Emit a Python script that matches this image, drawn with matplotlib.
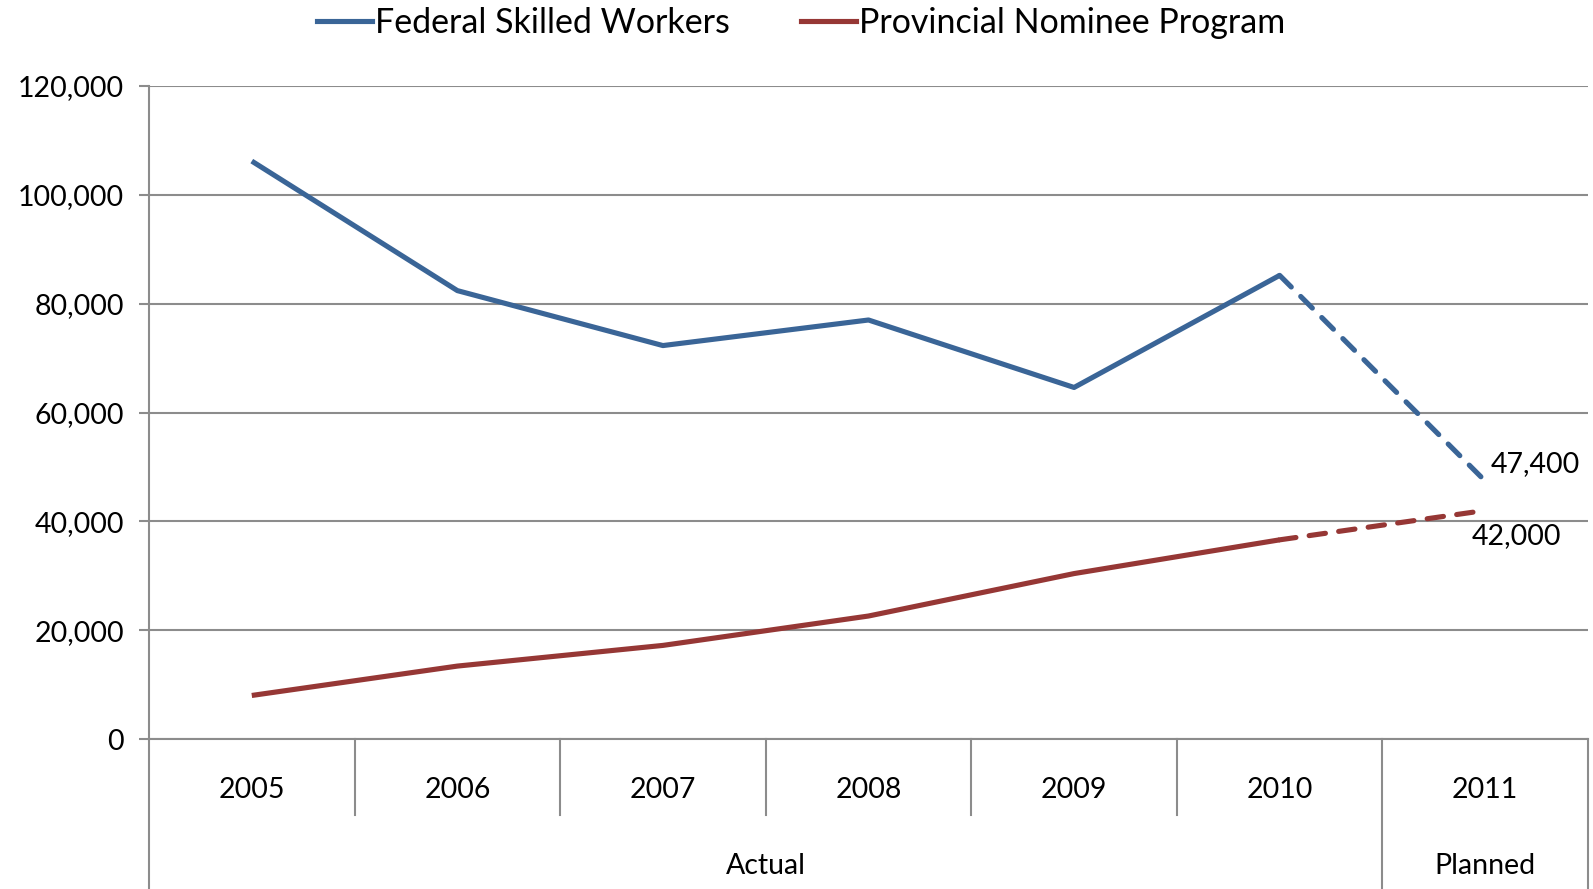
import matplotlib
matplotlib.use("Agg")
import matplotlib.pyplot as plt
from matplotlib.lines import Line2D

plt.rcParams['font.family'] = ['Lato', 'DejaVu Sans']

years = ["2005", "2006", "2007", "2008", "2009", "2010", "2011"]
groups = ["Actual", "Planned"]
group_sizes = [6, 1]
fsw = [106200, 82400, 72300, 77000, 64600, 85200, 47400]
pnp = [8000, 13400, 17200, 22600, 30400, 36600, 42000]
series_names = ["Federal Skilled Workers", "Provincial Nominee Program"]
colors = ["#3A6597", "#963735"]
yticks = [0, 20000, 40000, 60000, 80000, 100000, 120000]

W, H = 1593, 889
fig = plt.figure(figsize=(W / 100, H / 100), dpi=100)
left, right, top, bottom = 149, 1588, 86, 739
ax = fig.add_axes([left / W, 1 - bottom / H, (right - left) / W, (bottom - top) / H])

n = len(years)
x = list(range(n))
grid_c = "#8C8C8C"
fs = 20.5
lw = 3.7

for vals, c in zip([fsw, pnp], colors):
    ax.plot(x[:-1], vals[:-1], color=c, lw=lw, solid_capstyle='butt', zorder=3)
    ax.plot(x[-2:], vals[-2:], color=c, lw=lw, dashes=(3.2, 2.6), dash_capstyle='round', zorder=3)

ax.set_xlim(-0.5, n - 0.5)
ax.set_ylim(0, 120000)
ax.set_yticks(yticks)
ax.set_yticklabels([f"{v:,}" for v in yticks], fontsize=fs)
ax.yaxis.grid(True, color=grid_c, lw=1.5)
ax.set_axisbelow(True)
ax.tick_params(axis='y', length=7, color=grid_c, width=1.5, pad=11)
ax.tick_params(axis='x', length=0, labelbottom=False)
for s in ["top", "right"]:
    ax.spines[s].set_visible(False)
for s in ["left", "bottom"]:
    ax.spines[s].set_color(grid_c)
    ax.spines[s].set_linewidth(1.5)

# Category axis below the plot
trans = ax.get_xaxis_transform()
ax_h = bottom - top
year_y = -(790 - bottom) / ax_h
sep_y = -(815 - bottom) / ax_h
grp_y = -(866 - bottom) / ax_h
end_y = -(H - bottom) / ax_h
for i, yr in enumerate(years):
    ax.text(i, year_y, yr, transform=trans, ha='center', va='center', fontsize=fs)
boundaries = [0]
for g in group_sizes:
    boundaries.append(boundaries[-1] + g)
for i in range(1, n):
    bx = i - 0.5
    yend = end_y if i in boundaries else sep_y
    ax.plot([bx, bx], [0, yend], transform=trans, color=grid_c, lw=1.5, clip_on=False)
ax.plot([n - 0.5, n - 0.5], [0, end_y], transform=trans, color=grid_c, lw=1.5, clip_on=False)
ax.plot([-0.5, -0.5], [0, end_y], transform=trans, color=grid_c, lw=1.5, clip_on=False)
for gi, g in enumerate(groups):
    cx = (boundaries[gi] + boundaries[gi + 1] - 1) / 2
    ax.text(cx, grp_y, g, transform=trans, ha='center', va='center', fontsize=fs)

# Data labels for planned values
ax.annotate(f"{fsw[-1]:,}", (x[-1], fsw[-1]), xytext=(4, 3), textcoords='offset points',
            ha='left', va='bottom', fontsize=fs)
ax.annotate(f"{pnp[-1]:,}", (x[-1], pnp[-1]), xytext=(-10, -9), textcoords='offset points',
            ha='left', va='top', fontsize=fs)

handles = [Line2D([], [], color=c, lw=lw) for c in colors]
fig.legend(handles, series_names, loc='upper center', bbox_to_anchor=(0.503, 1.027), ncol=2,
           frameon=False, fontsize=24.5, handlelength=1.6, handletextpad=0.1, columnspacing=2.1)

fig.savefig("out.png", dpi=100)
